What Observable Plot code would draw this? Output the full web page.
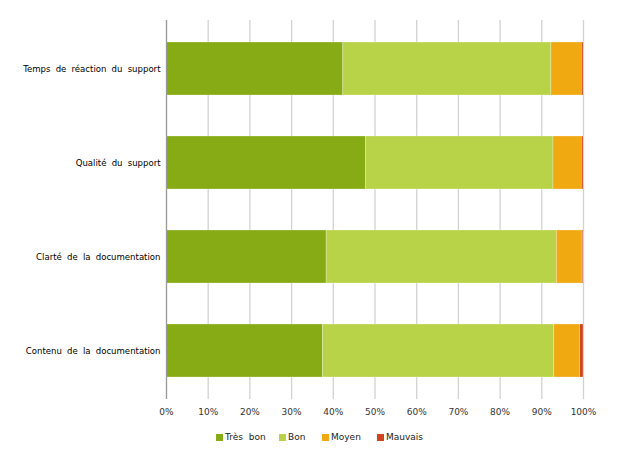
<!DOCTYPE html>
<html><head><meta charset="utf-8">
<script src="https://cdn.jsdelivr.net/npm/d3@7"></script>
<script src="https://cdn.jsdelivr.net/npm/@observablehq/plot@0.6"></script>
<style>
body{margin:0;background:#fff;font-family:"DejaVu Sans",sans-serif;}
#wrap{position:relative;width:623px;height:458px;}
#legend{position:absolute;left:0;top:432px;width:623px;height:14px;font-size:9px;color:#222;}
.item{position:absolute;display:flex;align-items:center;white-space:pre;word-spacing:3px;}
.sw{width:7px;height:7px;margin-right:2px;}
#chart g[aria-label="y-axis tick label"] text{word-spacing:2.5px;font-family:"DejaVu Sans Condensed","DejaVu Sans",sans-serif;}
</style></head><body><div id="wrap"><div id="chart"></div><div id="legend"></div></div>
<script>
const categories = ["Temps de réaction du support","Qualité du support","Clarté de la documentation","Contenu de la documentation"];
const series = ["Très bon","Bon","Moyen","Mauvais"];
const tresBon = [42.4,47.8,38.4,37.5];
const bon = [49.9,45.0,55.2,55.5];
const moyen = [7.3,6.8,6.2,6.2];
const mauvais = [0.4,0.4,0.2,0.8];
const colors = ["#86ab15","#b9d348","#f0a911","#d0451f"];
const xTicks = [0,10,20,30,40,50,60,70,80,90,100];
const legendX = [216,279,322,377];

const seriesValues = [tresBon,bon,moyen,mauvais];
const data = [];
categories.forEach((c,i)=>series.forEach((s,j)=>data.push({category:c,series:s,value:seriesValues[j][i]})));

const chart = Plot.plot({
  width:623, height:422,
  marginTop:20, marginBottom:23, marginLeft:166, marginRight:40,
  style:{fontFamily:"DejaVu Sans, sans-serif", fontSize:"9px", color:"#222", background:"#fff"},
  x:{domain:[0,100], ticks:xTicks},
  y:{domain:categories, paddingInner:0.436, paddingOuter:0.234, round:false},
  color:{domain:series, range:colors},
  marks:[
    Plot.gridX(xTicks,{stroke:"#d2d2d2", strokeOpacity:1, strokeWidth:1.3}),
    Plot.barX(data, Plot.stackX({x:"value", y:"category", fill:"series", stroke:"#fff", strokeWidth:0.6, strokeOpacity:0.45})),
    Plot.ruleX([0],{stroke:"#999", strokeWidth:1.2}),
    Plot.axisX(xTicks,{tickSize:0, tickPadding:9, tickFormat:d=>d+"%", label:null, fill:"#333", fontSize:9}),
    Plot.axisY({tickSize:0, tickPadding:6, label:null, fill:"#000", fontSize:9.5})
  ]
});
document.getElementById("chart").appendChild(chart);

const lg = document.getElementById("legend");
series.forEach((s,j)=>{
  const it = document.createElement("div");
  it.className="item"; it.style.left=legendX[j]+"px";
  const sw = document.createElement("span"); sw.className="sw"; sw.style.background=colors[j];
  const t = document.createElement("span"); t.textContent=s;
  it.appendChild(sw); it.appendChild(t); lg.appendChild(it);
});
</script></body></html>
